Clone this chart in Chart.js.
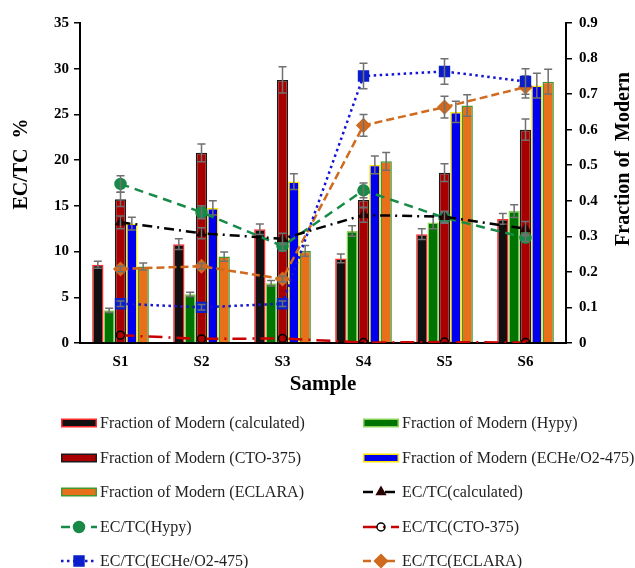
<!DOCTYPE html>
<html>
<head>
<meta charset="utf-8">
<script src="https://cdn.jsdelivr.net/npm/chart.js@4.4.0/dist/chart.umd.min.js"></script>
<style>
  body { margin: 0; background: #fff; }
  #wrap { position: relative; width: 635px; height: 400px; }
  #legend { position: absolute; left: 0; top: 0; width: 635px; height: 568px; pointer-events: none;
            font-family: "Liberation Serif", "Times New Roman", serif; font-size: 16px; color: #222; }
  .item { position: absolute; height: 20px; display: flex; align-items: center; white-space: nowrap; }
  .item canvas { margin-right: 2px; }
</style>
</head>
<body>
<div id="wrap"><canvas id="chart"></canvas></div>
<div id="legend"></div>
<script>
const samples = ["S1", "S2", "S3", "S4", "S5", "S6"];

// Fraction of Modern (right axis), bars
const fmCalculated = [0.220, 0.278, 0.320, 0.238, 0.306, 0.349];
const fmHypy       = [0.092, 0.137, 0.168, 0.315, 0.339, 0.371];
const fmCto        = [0.404, 0.535, 0.740, 0.402, 0.479, 0.600];
const fmEche       = [0.336, 0.380, 0.454, 0.501, 0.650, 0.724];
const fmEclara     = [0.215, 0.243, 0.259, 0.511, 0.668, 0.735];

const fmCalculatedErr = [0.010, 0.015, 0.015, 0.012, 0.015, 0.015];
const fmHypyErr       = [0.006, 0.006, 0.008, 0.015, 0.018, 0.018];
const fmCtoErr        = [0.020, 0.025, 0.037, 0.020, 0.025, 0.030];
const fmEcheErr       = [0.018, 0.020, 0.022, 0.025, 0.030, 0.035];
const fmEclaraErr     = [0.010, 0.013, 0.015, 0.025, 0.030, 0.035];

// EC/TC % (left axis), lines
const ecCalculated = [13.2, 12.0, 11.4, 14.0, 13.8, 12.5];
const ecHypy       = [17.4, 14.3, 10.6, 16.7, 13.7, 11.5];
const ecCto        = [0.85, 0.45, 0.50, 0.05, 0.10, 0.05];
const ecEche       = [4.3, 3.9, 4.3, 29.2, 29.7, 28.6];
const ecEclara     = [8.1, 8.4, 7.0, 23.8, 25.8, 28.0];

const ecCalculatedErr = [0.7, 0.6, 0.6, 0.8, 0.6, 0.8];
const ecHypyErr       = [0.9, 0.7, 0.5, 0.8, 0.6, 0.4];
const ecEcheErr       = [0.3, 0.3, 0.3, 1.4, 1.4, 1.4];
const ecEclaraErr     = [0.3, 0.3, 0.3, 1.2, 1.2, 1.2];

const leftTicksMax = 35, leftStep = 5;
const rightTicksMax = 0.9, rightStep = 0.1;

const FONT = "'Liberation Serif', 'Times New Roman', serif";
Chart.defaults.font.family = FONT;
Chart.defaults.color = "#000";

function barSet(label, data, errors, fill, border) {
  return { type: "bar", label, data, errors, yAxisID: "y1", order: 2,
           backgroundColor: fill, borderColor: border, borderWidth: 1.5 };
}
function lineSet(label, data, errors, color, dash, style, radius, ptFill, ptBorder) {
  return { type: "line", label, data, errors, yAxisID: "y", order: 1,
           borderColor: color, borderWidth: 2.5, borderDash: dash, fill: false, tension: 0,
           pointStyle: style, pointRadius: radius, pointBackgroundColor: ptFill,
           pointBorderColor: ptBorder, pointBorderWidth: 1.5 };
}

const datasets = [
  barSet("Fraction of Modern (calculated)", fmCalculated, fmCalculatedErr, "#111111", "#ff2a2a"),
  barSet("Fraction of Modern (Hypy)", fmHypy, fmHypyErr, "#007400", "#8ed45a"),
  barSet("Fraction of Modern (CTO-375)", fmCto, fmCtoErr, "#a80000", "#1a1a1a"),
  barSet("Fraction of Modern (ECHe/O2-475)", fmEche, fmEcheErr, "#0000ee", "#ffe600"),
  barSet("Fraction of Modern (ECLARA)", fmEclara, fmEclaraErr, "#e8701a", "#3f9a2c"),
  lineSet("EC/TC(calculated)", ecCalculated, ecCalculatedErr, "#000000", [10, 5, 2, 5], "triangle", 5, "#2a0000", "#2a0000"),
  lineSet("EC/TC(Hypy)", ecHypy, ecHypyErr, "#178a47", [9, 6], "circle", 5.5, "#178a47", "#178a47"),
  lineSet("EC/TC(CTO-375)", ecCto, null, "#c80000", [14, 6, 2, 6], "circle", 4, "rgba(0,0,0,0)", "#000000"),
  lineSet("EC/TC(ECHe/O2-475)", ecEche, ecEcheErr, "#1414d2", [2.5, 3.5], "rect", 7, "#0a1ecc", "#0a1ecc"),
  lineSet("EC/TC(ECLARA)", ecEclara, ecEclaraErr, "#cf6a1e", [8, 4], "rectRot", 6.5, "#cf6a1e", "#cf6a1e")
];

const errorBars = {
  id: "errorBars",
  afterDatasetDraw(chart, args) {
    const ds = chart.data.datasets[args.index];
    if (!ds.errors) return;
    const scale = chart.scales[ds.yAxisID];
    const ctx = chart.ctx;
    ctx.save();
    ctx.strokeStyle = "#707070";
    ctx.lineWidth = 1.5;
    ctx.setLineDash([]);
    args.meta.data.forEach((el, i) => {
      const e = ds.errors[i];
      if (!e) return;
      const v = ds.data[i];
      const top = scale.getPixelForValue(v + e);
      const bot = scale.getPixelForValue(Math.max(0, v - e));
      ctx.beginPath();
      ctx.moveTo(el.x, top); ctx.lineTo(el.x, bot);
      ctx.moveTo(el.x - 4, top); ctx.lineTo(el.x + 4, top);
      ctx.moveTo(el.x - 4, bot); ctx.lineTo(el.x + 4, bot);
      ctx.stroke();
    });
    ctx.restore();
  }
};

// both axis titles read bottom-to-top and sit a bit above the middle of the axis
const axisTitles = {
  id: "axisTitles",
  afterDraw(chart) {
    const { ctx, chartArea } = chart;
    const midY = (chartArea.top + chartArea.bottom) / 2;
    ctx.save();
    ctx.font = "bold 20px " + FONT;
    ctx.fillStyle = "#000";
    ctx.textAlign = "center";
    ctx.textBaseline = "middle";
    [["EC/TC  %", 22, midY - 19], ["Fraction of  Modern", 624, midY - 24]].forEach(([text, x, y]) => {
      ctx.save();
      ctx.translate(x, y);
      ctx.rotate(-Math.PI / 2);
      ctx.fillText(text, 0, 0);
      ctx.restore();
    });
    ctx.restore();
  }
};

const tickFont = { family: FONT, size: 15, weight: "bold" };

new Chart(document.getElementById("chart"), {
  type: "bar",
  data: { labels: samples, datasets },
  plugins: [errorBars, axisTitles],
  options: {
    responsive: true,
    maintainAspectRatio: false,
    animation: false,
    layout: { padding: { top: 23, left: 0, right: 0, bottom: 0 } },
    datasets: { bar: { categoryPercentage: 0.7, barPercentage: 1.0 } },
    plugins: { legend: { display: false }, tooltip: { enabled: false } },
    scales: {
      x: {
        grid: { display: false, drawTicks: false },
        border: { display: true, color: "#000", width: 2 },
        ticks: { font: tickFont, color: "#000", padding: 10 },
        title: { display: true, text: "Sample", font: { family: FONT, size: 21, weight: "bold" },
                 color: "#000", padding: { top: 0, bottom: 3 } },
        afterFit(s) { s.height = 57; }
      },
      y: {
        position: "left",
        min: 0, max: leftTicksMax,
        ticks: { stepSize: leftStep, font: tickFont, color: "#000", padding: 5 },
        grid: { drawOnChartArea: false, drawTicks: true, tickLength: 6, color: "#000", lineWidth: 1.5 },
        border: { display: true, color: "#000", width: 2 },
        afterFit(s) { s.width = 80; }
      },
      y1: {
        position: "right",
        min: 0, max: rightTicksMax,
        ticks: { stepSize: rightStep, font: tickFont, color: "#000", padding: 7,
                 callback: v => (v === 0 ? "0" : Number(v).toFixed(1)) },
        grid: { drawOnChartArea: false, drawTicks: true, tickLength: 6, color: "#000", lineWidth: 1.5 },
        border: { display: true, color: "#000", width: 2 },
        afterFit(s) { s.width = 69; }
      }
    }
  }
});

// legend, two columns
const legend = document.getElementById("legend");
datasets.forEach((ds, i) => {
  const col = i % 2, row = Math.floor(i / 2);
  const item = document.createElement("div");
  item.className = "item";
  item.style.left = (col === 0 ? 60 : 362) + "px";
  item.style.top = (423 + row * 34.5 - 10) + "px";
  const c = document.createElement("canvas");
  c.width = 38; c.height = 16;
  const g = c.getContext("2d");
  if (ds.type === "bar") {
    g.fillStyle = ds.borderColor;
    g.fillRect(1, 3.5, 36, 9);
    g.fillStyle = ds.backgroundColor;
    g.fillRect(2.5, 5, 33, 6);
  } else {
    g.strokeStyle = ds.borderColor;
    g.lineWidth = 2.5;
    g.setLineDash(ds.borderDash);
    g.beginPath(); g.moveTo(1, 8); g.lineTo(37, 8); g.stroke();
    g.setLineDash([]);
    g.fillStyle = ds.pointBackgroundColor;
    g.strokeStyle = ds.pointBorderColor;
    g.lineWidth = 1.5;
    Chart.helpers.drawPoint(g, { pointStyle: ds.pointStyle, radius: ds.pointRadius, rotation: 0, borderWidth: 1.5 }, 19, 8);
  }
  const t = document.createElement("span");
  t.textContent = ds.label;
  item.appendChild(c);
  item.appendChild(t);
  legend.appendChild(item);
});
</script>
</body>
</html>
